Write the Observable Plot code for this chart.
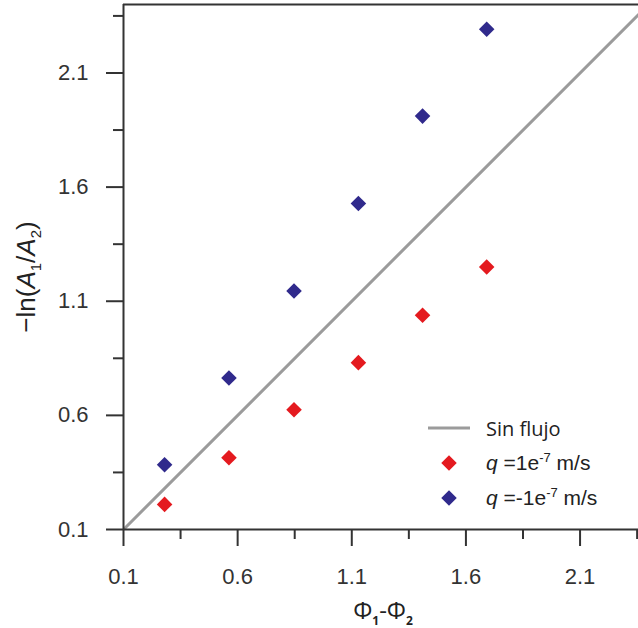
<!DOCTYPE html>
<html>
<head>
<meta charset="utf-8">
<script src="https://cdn.jsdelivr.net/npm/d3@7"></script>
<script src="https://cdn.jsdelivr.net/npm/@observablehq/plot@0.6"></script>
<style>
  html, body { margin: 0; padding: 0; background: white; }
</style>
</head>
<body>
<div id="chart"></div>
<script>
// Data
const phiDiff = [0.28, 0.562, 0.847, 1.129, 1.41, 1.691];          // Φ1-Φ2
const lnPosFlow = [0.21, 0.414, 0.625, 0.831, 1.039, 1.25];         // q = 1e-7 m/s
const lnNegFlow = [0.384, 0.764, 1.145, 1.528, 1.911, 2.292];       // q = -1e-7 m/s
const noFlowLine = [0.1, 2.4];                                       // Sin flujo: y = x
const majorTicks = [0.1, 0.6, 1.1, 1.6, 2.1];
const minorTicks = [0.35, 0.85, 1.35, 1.85, 2.35];
const seriesNames = ["Sin flujo", "q =1e-7 m/s", "q =-1e-7 m/s"];

const red = "#e41a1f";
const blue = "#302a8c";
const gray = "#9b9b9b";
const axisColor = "#333333";

const posData = phiDiff.map((x, i) => ({x, y: lnPosFlow[i]}));
const negData = phiDiff.map((x, i) => ({x, y: lnNegFlow[i]}));

const chart = Plot.plot({
  width: 638,
  height: 628,
  marginLeft: 123,
  marginTop: 4,
  marginRight: 0,
  marginBottom: 99,
  x: {domain: [0.1, 2.356]},
  y: {domain: [0.1, 2.4]},
  style: {fontFamily: "'Liberation Sans', Arial, sans-serif", background: "white", overflow: "visible"},
  marks: [
    Plot.line(noFlowLine, {x: d => d, y: d => d, stroke: gray, strokeWidth: 3, clip: true}),
    Plot.dot(posData, {x: "x", y: "y", symbol: "diamond2", r: 7, fill: red, stroke: "none"}),
    Plot.dot(negData, {x: "x", y: "y", symbol: "diamond2", r: 7, fill: blue, stroke: "none"}),
    Plot.axisX({ticks: majorTicks, tickSize: 17, tickPadding: 22, tickFormat: d3.format(".1f"),
      label: null, color: axisColor, strokeWidth: 2, fontSize: 22}),
    Plot.axisX({ticks: minorTicks, tickSize: 10, tickFormat: () => "", label: null, color: axisColor, strokeWidth: 2}),
    Plot.axisY({ticks: majorTicks, tickSize: 17, tickPadding: 18, tickFormat: d3.format(".1f"),
      label: null, color: axisColor, strokeWidth: 2, fontSize: 22}),
    Plot.axisY({ticks: minorTicks, tickSize: 10, tickFormat: () => "", label: null, color: axisColor, strokeWidth: 2}),
    Plot.ruleX([0.1], {stroke: axisColor, strokeWidth: 2}),
    Plot.ruleY([0.1], {stroke: axisColor, strokeWidth: 2}),
    Plot.ruleY([2.4], {stroke: axisColor, strokeWidth: 2})
  ]
});

document.getElementById("chart").appendChild(chart);

const svg = d3.select(chart);

// Y axis title: −ln(A1/A2)
const yt = svg.append("text")
  .attr("transform", "translate(35,277) rotate(-90)")
  .attr("text-anchor", "middle")
  .attr("font-family", "'Liberation Sans', Arial, sans-serif")
  .attr("font-size", 26)
  .attr("fill", "#222");
yt.append("tspan").text("\u2212ln(");
yt.append("tspan").attr("font-style", "italic").text("A");
yt.append("tspan").attr("font-size", 15).attr("dy", 6).text("1");
yt.append("tspan").attr("dy", -6).text("/");
yt.append("tspan").attr("font-style", "italic").text("A");
yt.append("tspan").attr("font-size", 15).attr("dy", 6).text("2");
yt.append("tspan").attr("dy", -6).text(")");

// X axis title: Φ1-Φ2
const xt = svg.append("text")
  .attr("x", 383).attr("y", 619)
  .attr("text-anchor", "middle")
  .attr("font-family", "'Open Sans', sans-serif")
  .attr("font-size", 24)
  .attr("fill", "#222");
xt.append("tspan").text("\u03A6");
xt.append("tspan").attr("font-size", 12).attr("font-weight", "bold").attr("dy", 6).text("1");
xt.append("tspan").attr("dy", -6).text("-\u03A6");
xt.append("tspan").attr("font-size", 12).attr("font-weight", "bold").attr("dy", 6).text("2");

// Legend
const lg = svg.append("g").attr("fill", "#222").attr("text-anchor", "start");
lg.append("line").attr("x1", 428).attr("x2", 470).attr("y1", 428).attr("y2", 428)
  .attr("stroke", gray).attr("stroke-width", 3);
lg.append("text").attr("x", 486).attr("y", 436)
  .attr("font-family", "'Open Sans', sans-serif").attr("font-size", 20).text(seriesNames[0]);

const diamond = d3.symbol(d3.symbolDiamond2, Math.PI * 49)();
[[red, 463, "=1e"], [blue, 498, "=-1e"]].forEach(([c, cy, mid]) => {
  lg.append("path").attr("d", diamond).attr("transform", `translate(449,${cy})`).attr("fill", c);
  const t = lg.append("text").attr("x", 486).attr("y", cy + 7)
    .attr("font-family", "'Liberation Sans', Arial, sans-serif").attr("font-size", 21);
  t.append("tspan").attr("font-style", "italic").text("q");
  t.append("tspan").text(" " + mid);
  t.append("tspan").attr("font-size", 13).attr("dy", -8).text("-7");
  t.append("tspan").attr("dy", 8).text(" m/s");
});
</script>
</body>
</html>
